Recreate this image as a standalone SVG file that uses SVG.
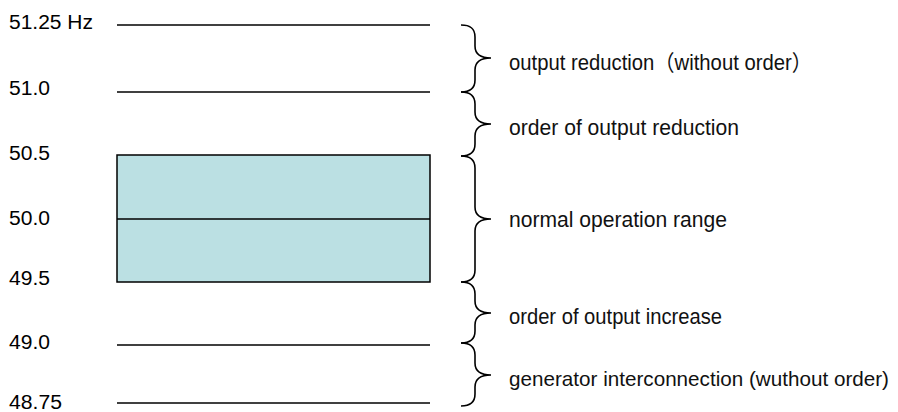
<svg xmlns="http://www.w3.org/2000/svg" width="898" height="412" viewBox="0 0 898 412">
<style>
  .lbl { font-family: "Liberation Sans", Arial, "Noto Sans CJK JP", sans-serif; font-size: 20px; fill: #000; }
  .rl { font-family: "Liberation Sans", Arial, "Noto Sans CJK JP", sans-serif; font-size: 22px; fill: #111; }
  .ln { stroke: #000; stroke-width: 1.5; fill: none; }
  .br { stroke: #000; stroke-width: 1.6; fill: none; }
</style>
<rect width="898" height="412" fill="#fff"/>
<g id="levels">
  <line class="ln" x1="117" y1="25" x2="430" y2="25"/>
  <line class="ln" x1="117" y1="92" x2="430" y2="92"/>
  <line class="ln" x1="117" y1="345" x2="430" y2="345"/>
  <line class="ln" x1="117" y1="403" x2="430" y2="403"/>
</g>
<g id="normal-range-box">
  <rect x="117" y="155" width="313" height="127" fill="#BBE0E3" stroke="#000" stroke-width="1.5"/>
  <line class="ln" x1="117" y1="219" x2="430" y2="219"/>
</g>
<g id="axis-labels">
  <text class="lbl" x="9" y="29" textLength="84" lengthAdjust="spacingAndGlyphs">51.25 Hz</text>
  <text class="lbl" x="9" y="95" textLength="41" lengthAdjust="spacingAndGlyphs">51.0</text>
  <text class="lbl" x="9" y="160" textLength="41" lengthAdjust="spacingAndGlyphs">50.5</text>
  <text class="lbl" x="9" y="225" textLength="41" lengthAdjust="spacingAndGlyphs">50.0</text>
  <text class="lbl" x="9" y="285" textLength="41" lengthAdjust="spacingAndGlyphs">49.5</text>
  <text class="lbl" x="9" y="349" textLength="41" lengthAdjust="spacingAndGlyphs">49.0</text>
  <text class="lbl" x="9" y="409" textLength="53" lengthAdjust="spacingAndGlyphs">48.75</text>
</g>
<g id="connectors">
  <path class="br" d="M461,25 C470,25 475,28 475,37 L475,46 C475,54 480,58 491,58 M491,58 C480,58 475,62 475,70 L475,80 C475,88 470,92 461,92"/>
  <path class="br" d="M461,92 C470,92 475,96 475,104 L475,112 C475,120 480,124 491,124 M491,124 C480,124 475,128 475,136 L475,144 C475,152 470,156 461,156"/>
  <path class="br" d="M461,156 C470,156 475,160 475,168 L475,207 C475,215 480,219 491,219 M491,219 C480,219 475,223 475,231 L475,270 C475,278 470,282 461,282"/>
  <path class="br" d="M461,282 C470,282 475,286 475,294 L475,301 C475,309 480,313 491,313 M491,313 C480,313 475,317 475,325 L475,331 C475,339 470,343 461,343"/>
  <path class="br" d="M461,343 C470,343 475,347 475,355 L475,363 C475,371 480,375 491,375 M491,375 C480,375 475,379 475,387 L475,394 C475,402 470,406 461,406"/>
</g>
<g id="range-labels">
  <text id="t1" class="rl" x="509" y="70" textLength="303" lengthAdjust="spacingAndGlyphs">output reduction（without order）</text>
  <text id="t2" class="rl" x="509" y="135" textLength="230" lengthAdjust="spacingAndGlyphs">order of output reduction</text>
  <text id="t3" class="rl" x="509" y="227" textLength="218" lengthAdjust="spacingAndGlyphs">normal operation range</text>
  <text id="t4" class="rl" x="509" y="324" textLength="213" lengthAdjust="spacingAndGlyphs">order of output increase</text>
  <text id="t5" class="rl" x="509" y="386" style="font-size:20.6px" textLength="380" lengthAdjust="spacingAndGlyphs">generator interconnection (wuthout order)</text>
</g>
</svg>
